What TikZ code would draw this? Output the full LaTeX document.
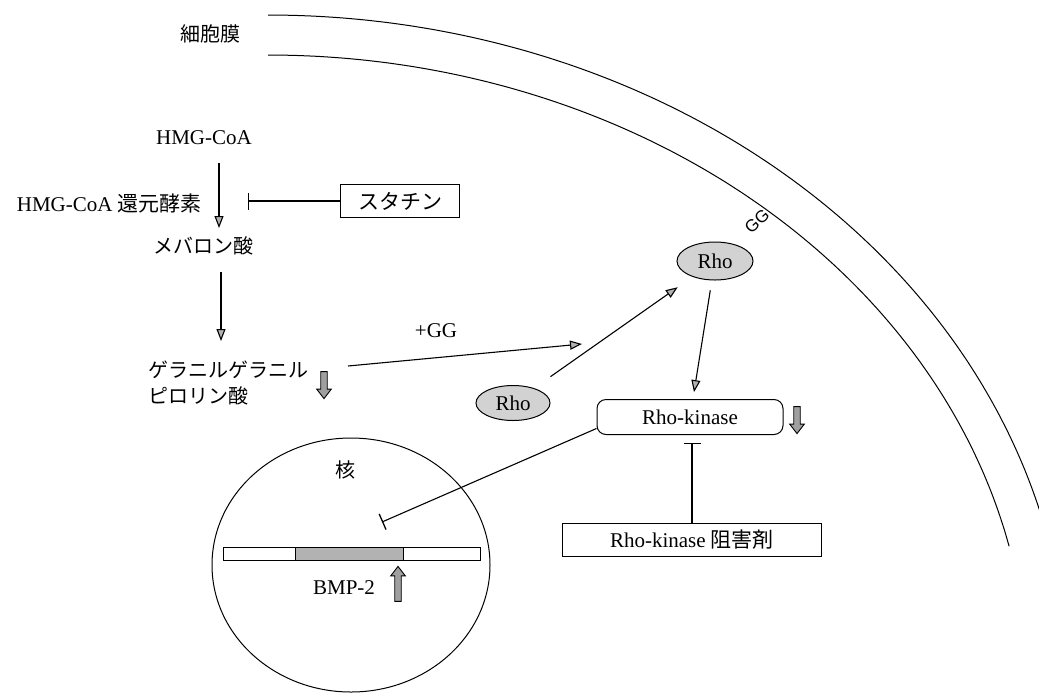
\documentclass[tikz,border=0pt]{standalone}
\usepackage{fontspec}
\setmainfont{Liberation Serif}
\newfontfamily\jp{Noto Sans CJK JP}
\newfontfamily\lsans{Liberation Sans}
\usetikzlibrary{arrows.meta,shapes.geometric,shapes.arrows,calc}
\begin{document}
\begin{tikzpicture}[x=1pt,y=-1pt,
  lat/.style={font=\fontsize{21}{25}\selectfont, inner sep=0pt},
  jpn/.style={font=\jp\fontsize{20}{26}\selectfont, inner sep=0pt},
  membrane/.style={line width=1pt},
  act/.style={line width=1.1pt, -{Triangle[length=12pt,width=9pt,fill=gray!60]}},
  inh/.style={line width=1.1pt, -{Bar[width=17pt,line width=1.3pt]}},
  box/.style={draw, line width=1pt, minimum height=33pt, inner sep=2pt, font=\fontsize{21}{25}\selectfont},
  rkbox/.style={draw, line width=1pt, rounded corners=9pt, minimum width=186pt, minimum height=35pt, font=\fontsize{21}{25}\selectfont},
  rho/.style={draw, ellipse, line width=1pt, fill=gray!35, inner sep=0pt, font=\fontsize{21}{25}\selectfont},
  blockarr/.style={shape=single arrow, draw, line width=0.9pt, fill=gray!75, inner sep=2.8pt,
    single arrow head extend=4pt, single arrow tip angle=75, minimum width=13pt},
  downarr/.style={blockarr, rotate=-90, minimum height=27pt},
  uparr/.style={blockarr, rotate=90, minimum height=35pt},
  nucleus/.style={draw, ellipse, line width=1pt, minimum width=278pt, minimum height=254pt},
  genewhite/.style={draw, line width=0.9pt, fill=white},
  genedark/.style={draw, line width=0.9pt, fill=gray!60}
]
\path[fill=white, use as bounding box] (0,0) rectangle (1039,697);

% cell membrane (two elliptic arcs)
\draw[membrane] plot[domain=-90:-15.2, samples=120, smooth] ({268+800*cos(\x)}, {688+673*sin(\x)});
\draw[membrane] plot[domain=-90:-12.8, samples=120, smooth] ({268+760*cos(\x)}, {686+631*sin(\x)});
\node[jpn] (memlabel) at (210,34) {細胞膜};

% mevalonate pathway
\node[lat] (hmg) at (204,138) {HMG-CoA};
\node[lat, anchor=east] (red) at (202,203) {HMG-CoA {\jp 還元酵素}};
\node[jpn] (mev) at (203,246) {メバロン酸};
\node[jpn, align=left, anchor=west] (ggpp) at (148,383) {ゲラニルゲラニル\\ピロリン酸};
\node[box, minimum width=119pt] (statin) at (400,201) {\jp スタチン};

\coordinate (a1s) at (219,163);
\coordinate (a1e) at (219,228);
\coordinate (a2s) at (221,272);
\coordinate (a2e) at (221,341);
\draw[act] (a1s) -- (a1e);
\draw[act] (a2s) -- (a2e);
\coordinate (statbar) at (248,201);
\draw[inh] (statin.west) -- (statbar);

\node[downarr] (ggdown) at (324,383) {};

% geranylgeranylation
\coordinate (ggs) at (348,366);
\coordinate (gge) at (582,344);
\draw[act] (ggs) -- (gge);
\node[lat] (plusgg) at (436,331) {+GG};

\node[rho, minimum width=74pt, minimum height=35pt] (rho1) at (513,403) {Rho};
\node[rho, minimum width=76pt, minimum height=38pt] (rho2) at (715,261) {Rho};
\draw[act, shorten <=20pt, shorten >=18pt] (rho1) -- (rho2);
\node[font=\lsans\fontsize{17}{20}\selectfont, rotate=42, inner sep=0pt] (gglabel) at (757,221) {GG};

\node[rkbox] (rk) at (690,417) {Rho-kinase};
\draw[act, shorten <=10pt, shorten >=7pt] (rho2) -- (rk);
\node[downarr] (rkdown) at (797,418) {};

\node[box, minimum width=259pt] (rki) at (692,540) {Rho-kinase {\jp 阻害剤}};
\coordinate (rkbar) at (692,443);
\draw[inh] (rki.north) -- (rkbar);

% nucleus
\node[nucleus] (nuc) at (351,565) {};
\node[jpn] (nuclabel) at (345,470) {核};
\draw[genewhite] (223,547) rectangle (295,560);
\draw[genedark] (295,547) rectangle (403,560);
\draw[genewhite] (403,547) rectangle (480,560);
\node[lat] (bmp) at (344,588) {BMP-2};
\node[uparr] (bmpup) at (398,586) {};

\coordinate (nucbar) at (382,522);
\draw[inh] (rk.187) -- (nucbar);
\end{tikzpicture}
\end{document}
